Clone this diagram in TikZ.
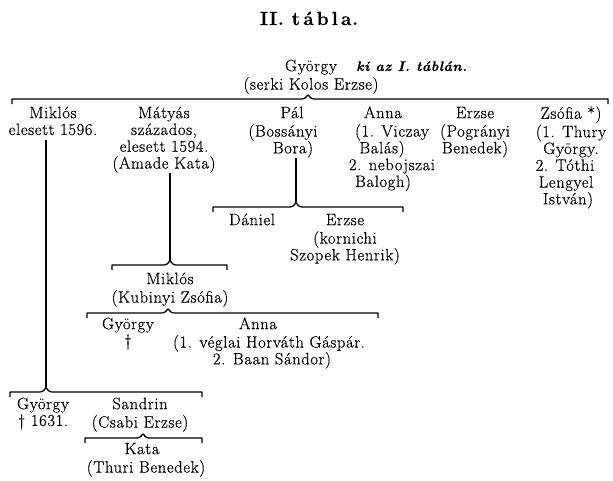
\documentclass[tikz,border=0pt]{standalone}
\usepackage{fontspec}
\setmainfont{Latin Modern Roman}[FakeBold=0.5,LetterSpace=4]
\begin{document}
\begin{tikzpicture}[x=1pt,y=1pt,
  person/.style={align=center, anchor=north, inner sep=0pt, font=\fontsize{16.5}{16.8}\selectfont},
  rail/.style={line width=1.3pt, line join=round},
  stem/.style={line width=1.4pt}]
\useasboundingbox (0,0) rectangle (613,-480);
\newcommand\famrail[4]{%
  \draw[rail] ({#1},{-#4-5}) -- ({#1},{-#4}) -- ({#3-6},{-#4})
    .. controls ({#3-2},{-#4}) and ({#3-1},{-#4+4}) .. ({#3},{-#4+4})
    .. controls ({#3+1},{-#4+4}) and ({#3+2},{-#4}) .. ({#3+6},{-#4})
    -- ({#2},{-#4}) -- ({#2},{-#4-5});}

% title
\node[anchor=base, inner sep=0pt, font=\fontsize{19}{22}\selectfont\bfseries] (title) at (309,-25) {II.\ t\,á\,b\,l\,a.};

% generation 0
\node[person] (gy0) at (311,-59.2) {\strut György\\(serki Kolos Erzse)};
\node[anchor=base west, inner sep=0pt, font=\fontsize{14}{17}\selectfont\bfseries\itshape] (ki) at (356,-71) {ki az I. táblán.};
\famrail{12}{608}{308}{99}

% generation 1
\node[person] (mik1) at (53,-106.2) {\strut Miklós\\elesett 1596.};
\node[person] (mat) at (164,-106.2) {\strut Mátyás\\százados,\\elesett 1594.\\(Amade Kata)};
\node[person] (pal) at (283,-106.2) {\strut\mbox{\hspace{18pt}Pál}\\(Bossányi\\\mbox{\hspace{20pt}Bora)}};
\node[person] (anna1) at (387,-106.2) {\strut\mbox{Anna\hspace{8pt}}\\\mbox{\hspace{10pt}(1. Viczay}\\\mbox{Balás)\hspace{10pt}}\\\mbox{\hspace{10pt}2. nebojszai}\\\mbox{Balogh)\hspace{8pt}}};
\node[person] (erz1) at (475,-106.2) {\strut Erzse\\(Pogrányi\\Benedek)};
\node[person] (zso) at (571,-106.2) {\strut Zsófia *)\\(1. Thury\\György.\\\mbox{2. Tóthi\hspace{12pt}}\\\mbox{Lengyel\hspace{10pt}}\\\mbox{István)\hspace{6pt}}};

% Pál's children
\coordinate (pkB1) at (296,-203);
\famrail{213}{403}{296}{207}
\draw[stem] (pal.south -| pkB1) -- (pkB1);
\node[person] (dan) at (252,-213.2) {\strut Dániel};
\node[person] (erz2) at (345,-213.2) {\strut Erzse\\(kornichi\\Szopek Henrik)};

% Mátyás's child
\coordinate (pkB2) at (170,-261);
\famrail{112}{227}{170}{265}
\draw[stem] (mat.south -| pkB2) -- (pkB2);
\node[person] (mik2) at (170,-272.2) {\strut Miklós\\(Kubinyi Zsófia)};

% Miklós's children
\famrail{87}{378}{168}{313}
\node[person] (gy2) at (128,-317.2) {\strut György\\\textdagger};
\node[person] (anna2) at (269,-317.2) {\strut\mbox{Anna\hspace{22pt}}\\(1. véglai Horváth Gáspár.\\\mbox{\hspace{6pt}2. Baan Sándor)}};

% Miklós (1596) children
\coordinate (pkB4) at (46,-388);
\famrail{10}{202}{46}{392}
\draw[stem] ([yshift=-5pt]mik1.south -| pkB4) -- (pkB4);
\node[person] (gy3) at (43,-397.2) {\strut György\\\textdagger\ 1631.};
\node[person] (san) at (140,-397.2) {\strut Sandrin\\(Csabi Erzse)};

% Sandrin's child
\famrail{85}{202}{143}{438}
\node[person] (kata) at (146,-442.2) {\strut\mbox{Kata\hspace{8pt}}\\(Thuri Benedek)};
\end{tikzpicture}
\end{document}
